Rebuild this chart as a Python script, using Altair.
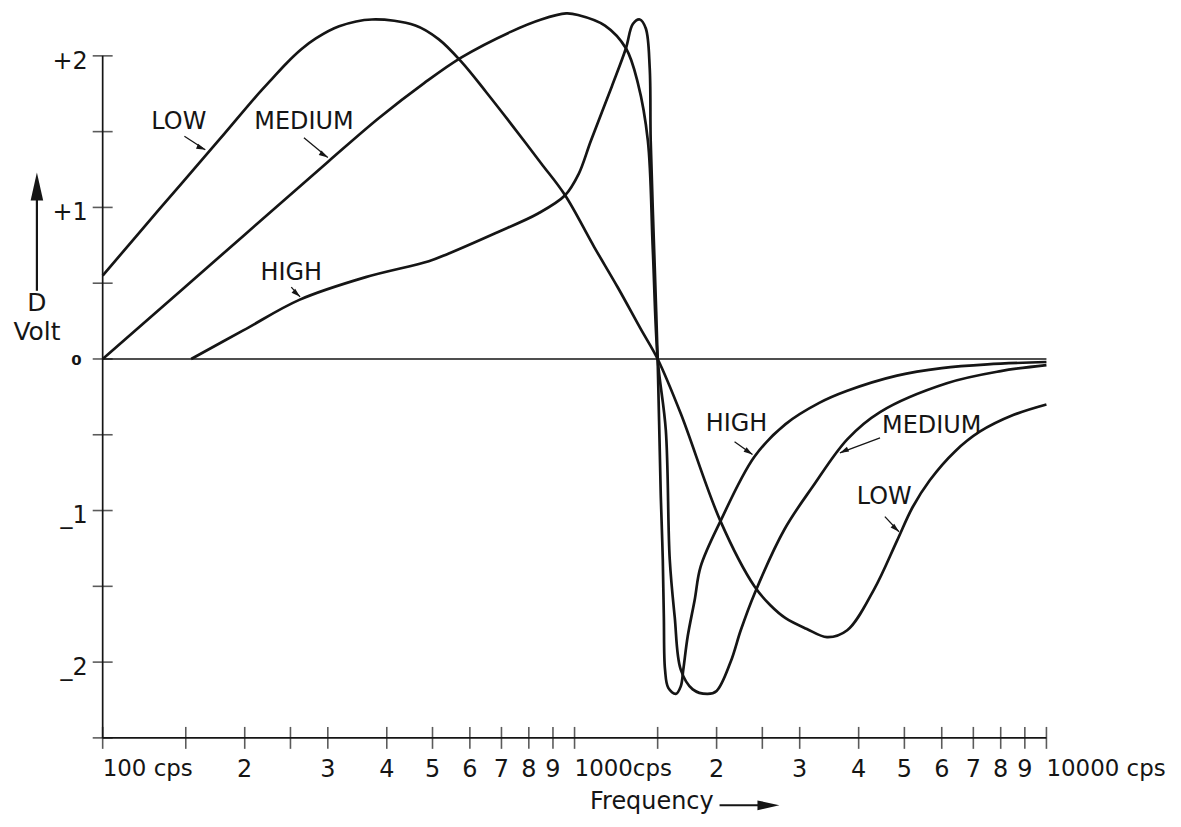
import altair as alt
import pandas as pd

# ---- curve data: frequency (cps) and D (volt) ----
low_f = [100, 132, 177, 211, 228, 245, 264, 283, 317, 372, 460, 515, 576, 650, 734, 850, 955,
         1100, 1236, 1380, 1500, 1679, 2038, 2405, 2600, 2800, 3100, 3428, 3783, 4313, 4822, 5200, 5660,
         6400, 7220, 8500, 10000]
low_v = [0.55, 0.99, 1.45, 1.73, 1.845, 1.95, 2.045, 2.115, 2.195, 2.24, 2.20, 2.11, 1.96, 1.76, 1.55, 1.29, 1.08,
         0.74, 0.47, 0.20, 0.0, -0.36, -1.07, -1.50, -1.625, -1.71, -1.78, -1.835, -1.79, -1.52, -1.20, -0.98, -0.80,
         -0.61, -0.48, -0.37, -0.30]

med_f = [100, 200, 300, 385, 480, 576, 734, 850, 960, 1017, 1160, 1285, 1362, 1430, 1465, 1500,
         1561, 1591, 1630, 1679, 1780, 1914, 2000, 2141, 2250, 2405, 2784, 3200, 3783, 4440, 6150, 8000, 10000]
med_v = [0.0, 0.82, 1.30, 1.59, 1.82, 1.99, 2.16, 2.24, 2.28, 2.27, 2.20, 2.05, 1.82, 1.44, 0.72, 0.0,
         -0.47, -1.32, -1.70, -2.05, -2.18, -2.21, -2.19, -2.00, -1.79, -1.55, -1.125, -0.84, -0.53, -0.35, -0.16, -0.08, -0.04]

high_f = [154, 199, 261, 361, 491, 540, 679, 837, 955, 1020, 1083, 1200, 1285, 1329, 1375, 1416, 1443, 1450, 1479, 1500,
          1523, 1538, 1546, 1555, 1580, 1639, 1679, 1700, 1737, 1797, 1850, 2038, 2405, 2800, 3300, 3783, 4822, 6000, 7500, 10000]
high_v = [0.0, 0.19, 0.39, 0.54, 0.645, 0.695, 0.83, 0.96, 1.08, 1.22, 1.44, 1.80, 2.05, 2.21, 2.24, 2.18, 1.92, 1.44, 0.60, 0.0,
          -0.90, -1.32, -1.70, -2.05, -2.17, -2.21, -2.16, -2.05, -1.83, -1.59, -1.37, -1.07, -0.645, -0.43, -0.29, -0.21, -0.11, -0.06, -0.035, -0.02]

# ---- axis ticks and labels ----
x_ticks = [100, 150, 200, 250, 300, 400, 500, 600, 700, 800, 900, 1000,
           1500, 2000, 2500, 3000, 4000, 5000, 6000, 7000, 8000, 9000, 10000]
x_mid_f = [200, 300, 400, 500, 600, 700, 800, 900, 2000, 3000, 4000, 5000, 6000, 7000, 8000, 9000]
x_mid_t = ["2", "3", "4", "5", "6", "7", "8", "9", "2", "3", "4", "5", "6", "7", "8", "9"]
x_end_f = [100, 1000, 10000]
x_end_t = ["100 cps", "1000cps", "10000 cps"]
y_ticks = [-2.5, -2, -1.5, -1, -0.5, 0, 0.5, 1, 1.5, 2]
y_lab_v = [2, 1, -1, -2]
y_lab_t = ["+2", "+1", "_1", "_2"]

# ---- curve labels and their arrows ----
lab_t = ["LOW", "MEDIUM", "HIGH", "HIGH", "MEDIUM", "LOW"]
lab_f = [145, 267, 251, 2204, 5715, 4530]
lab_v = [1.566, 1.566, 0.566, -0.428, -0.441, -0.914]
arr_f = [149, 267, 251, 2183, 4440, 4546]
arr_v = [1.47, 1.46, 0.474, -0.546, -0.52, -1.04]
arr_f2 = [165, 300, 262, 2383, 3650, 4870]
arr_v2 = [1.38, 1.33, 0.41, -0.63, -0.62, -1.14]
arr_ang = [113, 121, 132, 124, 245, 133]

FONT = "DejaVu Sans"
INK = "#151515"

rows = []
for name, fs, vs in [("LOW", low_f, low_v), ("MEDIUM", med_f, med_v), ("HIGH", high_f, high_v)]:
    for i, (f, v) in enumerate(zip(fs, vs)):
        rows.append({"curve": name, "f": f, "v": v, "ord": i})
curves = pd.DataFrame(rows)

xs = alt.Scale(type="log", domain=[100, 10000], nice=False)
ys = alt.Scale(domain=[-2.5, 2.3], nice=False, zero=False)
X = alt.X("f:Q", scale=xs, axis=None)
Y = alt.Y("v:Q", scale=ys, axis=None)

lines = alt.Chart(curves).mark_line(interpolate="catmull-rom", strokeWidth=2.7, color=INK).encode(
    x=X, y=Y, detail="curve:N", order="ord:Q")

frame = pd.DataFrame({"f": [100, 100, 100], "f2": [10000, 100, 10000],
                      "v": [0, -2.5, -2.5], "v2": [0, 2, -2.5]})
frame_rules = alt.Chart(frame).mark_rule(strokeWidth=1.7, color=INK).encode(
    x=X, x2="f2:Q", y=Y, y2="v2:Q")

yt = alt.Chart(pd.DataFrame({"v": y_ticks, "f": [100] * len(y_ticks)})).mark_tick(
    orient="horizontal", size=20, thickness=1.6, color=INK).encode(x=X, y=Y)
xt = alt.Chart(pd.DataFrame({"f": x_ticks, "v": [-2.5] * len(x_ticks)})).mark_tick(
    orient="vertical", size=22, thickness=1.6, color=INK).encode(x=X, y=Y)

xlab_mid = alt.Chart(pd.DataFrame({"f": x_mid_f, "t": x_mid_t, "v": [-2.5] * len(x_mid_f)})).mark_text(
    font=FONT, fontSize=24, color=INK, align="center", baseline="top", dy=20).encode(x=X, y=Y, text="t:N")
xlab_end = alt.Chart(pd.DataFrame({"f": x_end_f, "t": x_end_t, "v": [-2.5] * 3})).mark_text(
    font=FONT, fontSize=23, color=INK, align="left", baseline="top", dy=20).encode(
    x=X, y=Y, text="t:N",
    xOffset=alt.XOffset("f:O", scale=alt.Scale(domain=[100, 1000, 10000], range=[-15, -2, -3])))

ylab = alt.Chart(pd.DataFrame({"v": y_lab_v, "t": y_lab_t, "f": [100] * 4})).mark_text(
    font=FONT, fontSize=24, color=INK, align="right", baseline="middle", dx=-15, dy=6).encode(
    x=X, y=Y, text="t:N")
ylab0 = alt.Chart(pd.DataFrame({"v": [0], "t": ["0"], "f": [100]})).mark_text(
    font=FONT, fontSize=15, fontWeight="bold", color=INK, align="right", baseline="middle", dx=-21, dy=1).encode(
    x=X, y=Y, text="t:N")

ann = pd.DataFrame({"t": lab_t, "f": lab_f, "v": lab_v})
ann_text = alt.Chart(ann).mark_text(font=FONT, fontSize=24, color=INK, align="center", baseline="middle").encode(
    x=X, y=Y, text="t:N")

arr = pd.DataFrame({"f": arr_f, "v": arr_v, "f2": arr_f2, "v2": arr_v2, "ang": arr_ang})
arr_rule = alt.Chart(arr).mark_rule(strokeWidth=1.3, color=INK).encode(x=X, y=Y, x2="f2:Q", y2="v2:Q")
HEAD = "M0,0L0.6,2L-0.6,2Z"
arr_head = alt.Chart(arr).mark_point(shape=HEAD, filled=True, size=81, color=INK, opacity=1).encode(
    x=alt.X("f2:Q", scale=xs, axis=None), y=alt.Y("v2:Q", scale=ys, axis=None),
    angle=alt.Angle("ang:Q", scale=None))

# y title: arrow, "D", "Volt"
ytitle_rule = alt.Chart(pd.DataFrame({"v": [0.45], "v2": [1.08]})).mark_rule(strokeWidth=2.2, color=INK).encode(
    x=alt.value(-66), y=Y, y2="v2:Q")
ytitle_head = alt.Chart(pd.DataFrame({"v": [1.23]})).mark_point(
    shape="M0,0L0.45,2L-0.45,2Z", filled=True, size=784, color=INK, opacity=1).encode(x=alt.value(-66), y=Y)
ytitle_text = alt.Chart(pd.DataFrame({"v": [0.37, 0.18], "t": ["D", "Volt"]})).mark_text(
    font=FONT, fontSize=25, color=INK, align="center", baseline="middle").encode(x=alt.value(-66), y=Y, text="t:N")

# x title: "Frequency" with arrow
xtitle_text = alt.Chart(pd.DataFrame({"f": [1458], "v": [-2.92], "t": ["Frequency"]})).mark_text(
    font=FONT, fontSize=24, color=INK, align="center", baseline="middle").encode(x=X, y=Y, text="t:N")
xtitle_rule = alt.Chart(pd.DataFrame({"f": [2029], "f2": [2560], "v": [-2.945]})).mark_rule(
    strokeWidth=2.0, color=INK).encode(x=X, x2="f2:Q", y=Y)
xtitle_head = alt.Chart(pd.DataFrame({"f": [2717], "v": [-2.945]})).mark_point(
    shape="M0,0L0.45,2L-0.45,2Z", filled=True, size=484, angle=90, color=INK, opacity=1).encode(x=X, y=Y)

chart = alt.layer(
    frame_rules, yt, xt, lines, xlab_mid, xlab_end, ylab, ylab0, ann_text, arr_rule, arr_head,
    ytitle_rule, ytitle_head, ytitle_text, xtitle_text, xtitle_rule, xtitle_head
).properties(
    width=947, height=730,
    autosize=alt.AutoSizeParams(type="none"),
    padding={"left": 95, "top": 1, "right": 127, "bottom": 80},
    background="white",
).configure_view(stroke=None)

chart.save("out.html", embed_options={"renderer": "svg", "actions": False})
